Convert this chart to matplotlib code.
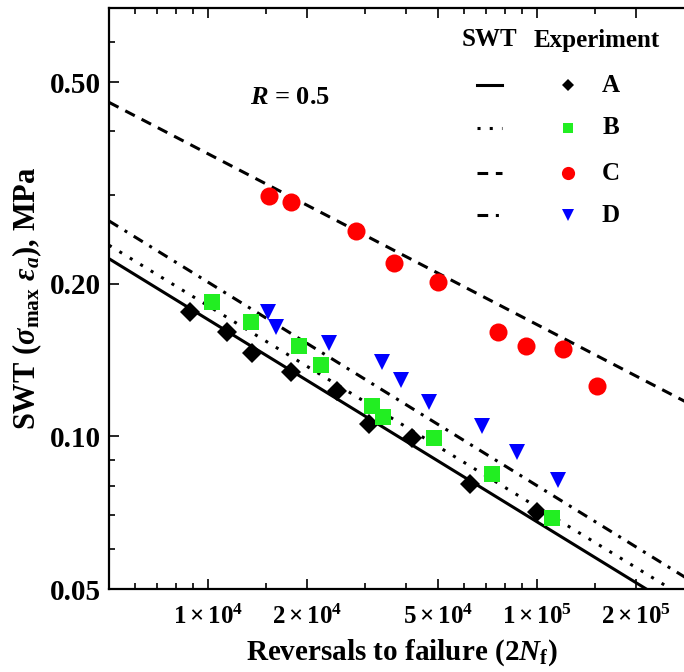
import matplotlib
matplotlib.use("Agg")
import matplotlib.pyplot as plt
from matplotlib.lines import Line2D
import numpy as np

plt.rcParams.update({
    "font.family": "Liberation Serif",
    "font.weight": "bold",
    "mathtext.fontset": "custom",
    "mathtext.rm": "Liberation Serif:bold",
    "mathtext.bf": "Liberation Serif:bold",
    "mathtext.it": "Liberation Serif:italic:bold",
    "mathtext.fallback": "stix",
})

# ── Experimental data: reversals to failure (2Nf) vs. SWT (MPa) ──────────
nf_A = [8816, 11420, 13610, 17880, 24660, 30860, 41690, 62560, 100000]
swt_A = [0.176, 0.161, 0.146, 0.134, 0.123, 0.106, 0.0993, 0.0806, 0.0709]

nf_B = [10280, 13510, 18900, 22060, 31510, 34030, 48630, 72980, 111100]
swt_B = [0.184, 0.168, 0.151, 0.138, 0.115, 0.109, 0.0993, 0.0843, 0.069]

nf_C = [15320, 17880, 28180, 36760, 50020, 76120, 92600, 119950, 152200]
swt_C = [0.298, 0.290, 0.254, 0.220, 0.202, 0.161, 0.151, 0.149, 0.126]

nf_D = [15220, 16090, 23320, 33800, 38610, 46960, 68050, 86950, 115800]
swt_D = [0.176, 0.164, 0.153, 0.140, 0.129, 0.117, 0.105, 0.0932, 0.0820]

# SWT model lines: SWT = s10k * (2Nf / 1e4) ** b
groups = ["A", "B", "C", "D"]
s10k = [0.170, 0.181, 0.361, 0.2015]
b_exp = [-0.399, -0.397, -0.337, -0.4015]

line_styles = ["-", (0, (1, 3)), (0, (3.5, 2.5)), (0, (3.5, 2.5, 1, 2.5))]
markers = ["D", "s", "o", "v"]
colors = ["black", "#22ee22", "#ff0000", "#0000ff"]
msizes = [10.5, 11, 13, 12]

W, H = 684, 672
fig = plt.figure(figsize=(W / 100, H / 100), dpi=100)
ax = fig.add_axes([109 / W, 1 - 589 / H, (694 - 109) / W, (589 - 8) / H])

xlo, xhi = 5000, 3e5
xs = np.array([xlo, xhi])
for sf, b, ls in zip(s10k, b_exp, line_styles):
    ax.plot(xs, sf * (xs / 1e4) ** b, color="black", lw=2.2, linestyle=ls, zorder=2)

data = [(nf_A, swt_A), (nf_B, swt_B), (nf_C, swt_C), (nf_D, swt_D)]
for (xv, yv), m, c, ms in zip(data, markers, colors, msizes):
    ax.plot(xv, yv, linestyle="none", marker=m, color=c, markersize=ms,
            markeredgewidth=0, zorder=3)

ax.set_xscale("log")
ax.set_yscale("log")
ax.set_xlim(xlo, xhi)
ax.set_ylim(0.05, 0.70)

ax.set_xticks([1e4, 2e4, 5e4, 1e5, 2e5])
ax.set_xticklabels([r"$1\times10^{4}$", r"$2\times10^{4}$", r"$5\times10^{4}$",
                    r"$1\times10^{5}$", r"$2\times10^{5}$"], fontsize=18)
ax.set_xticks([6e3, 7e3, 8e3, 9e3, 1.5e4, 3e4, 4e4, 6e4, 7e4, 8e4, 9e4, 1.5e5],
              minor=True)
ax.set_yticks([0.05, 0.1, 0.2, 0.5])
ax.set_yticklabels(["0.05", "0.10", "0.20", "0.50"], fontsize=21, fontweight="bold")
ax.set_yticks([0.06, 0.07, 0.08, 0.09, 0.3, 0.4, 0.6, 0.7], minor=True)
ax.set_yticklabels([], minor=True)
ax.set_xticklabels([], minor=True)

ax.tick_params(which="both", direction="in", top=True, right=True, width=1.2)
ax.tick_params(which="major", length=7)
ax.tick_params(axis="x", which="major", pad=11)
ax.tick_params(axis="y", which="major", pad=6)
ax.tick_params(which="minor", length=4)
for sp in ax.spines.values():
    sp.set_linewidth(1.6)

ax.set_xlabel(r"Reversals to failure (2$N_{\rm f}$)", fontsize=21,
              fontweight="bold", labelpad=6)
ax.set_ylabel(r"SWT ($\sigma_{\rm max}\ \varepsilon_a$), MPa", fontsize=22,
              fontweight="bold", labelpad=4)

fig.text(290 / W, 1 - 97 / H, r"$R$ = 0.5", fontsize=19, fontweight="bold",
         ha="center", va="center")

# ── Legend built by hand: SWT line style / experiment marker ─────────────
fig.text(489 / W, 1 - 40 / H, "SWT", fontsize=18, fontweight="bold",
         ha="center", va="center")
fig.text(597 / W, 1 - 40 / H, "Experiment", fontsize=18, fontweight="bold",
         ha="center", va="center")
row_y = [85, 128, 173, 215]
leg_ms = [6.5, 7, 9.5, 8.5]
for g, ry, ls, m, c, ms in zip(groups, row_y, line_styles, markers, colors, leg_ms):
    fy = 1 - ry / H
    fig.add_artist(Line2D([477 / W, 502 / W], [fy, fy], transform=fig.transFigure,
                          color="black", lw=2.2, linestyle=ls))
    fig.add_artist(Line2D([568 / W], [fy], transform=fig.transFigure,
                          marker=m, color=c, markersize=ms, markeredgewidth=0,
                          linestyle="none"))
    fig.text(611 / W, fy, g, fontsize=18, fontweight="bold",
             ha="center", va="center")

fig.savefig("out.png", dpi=100)
